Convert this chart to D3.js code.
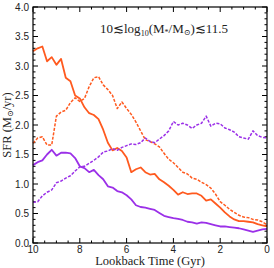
<!DOCTYPE html>
<html>
<head>
    <meta charset="utf-8" />
    <title>SFR history</title>
    <script src="https://cdn.jsdelivr.net/npm/d3@7"></script>
    <style>
        body { margin: 0; background: #fff; }
        .tick-label { font-family: "Liberation Sans", Arial, sans-serif; font-size: 10px; fill: #222; }
        .serif { font-family: "Liberation Serif", "DejaVu Serif", serif; fill: #222; }
    </style>
</head>
<body>
    <svg id="chart" width="274" height="268"></svg>
    <script>
        // lookback time grid (Gyr), 10 -> 0
        var times = d3.range(0, 51).map(function (i) { return +(10 - i * 0.2).toFixed(1); });

        var orangeSolid = [3.25, 3.3, 3.33, 3.08, 3.15, 3.02, 3.12, 2.8, 2.74, 2.5,
            2.45, 2.3, 2.2, 2.17, 2.1, 1.92, 1.7, 1.57, 1.61, 1.56,
            1.45, 1.2, 1.25, 1.28, 1.2, 1.16, 1.17, 1.08, 1.03, 0.97,
            0.9, 0.82, 0.86, 0.83, 0.84, 0.84, 0.8, 0.72, 0.74, 0.67,
            0.6, 0.52, 0.45, 0.4, 0.37, 0.37, 0.36, 0.35, 0.32, 0.3, 0.28];

        var orangeDashed = [1.69, 1.78, 1.8, 1.66, 1.66, 2.15, 2.22, 2.25, 2.38, 2.46,
            2.4, 2.45, 2.65, 2.8, 2.82, 2.68, 2.6, 2.5, 2.28, 2.39,
            2.28, 2.18, 2.05, 1.9, 1.75, 1.72, 1.68, 1.63, 1.52, 1.42,
            1.36, 1.28, 1.2, 1.17, 1.1, 1.08, 1.03, 0.99, 0.93, 0.83,
            0.7, 0.64, 0.57, 0.52, 0.47, 0.44, 0.43, 0.4, 0.39, 0.36, 0.31];

        var purpleSolid = [1.32, 1.37, 1.4, 1.5, 1.58, 1.48, 1.53, 1.53, 1.52, 1.44,
            1.3, 1.27, 1.2, 1.24, 1.15, 1.08, 0.96, 0.94, 0.88, 0.86,
            0.81, 0.74, 0.64, 0.61, 0.6, 0.58, 0.56, 0.51, 0.46, 0.44,
            0.42, 0.41, 0.39, 0.36, 0.35, 0.33, 0.35, 0.34, 0.32, 0.3,
            0.28, 0.28, 0.27, 0.26, 0.25, 0.23, 0.21, 0.19, 0.21, 0.23, 0.24];

        var purpleDashed = [0.69, 0.7, 0.8, 0.86, 0.9, 1.02, 1.05, 1.1, 1.14, 1.22,
            1.29, 1.3, 1.35, 1.4, 1.46, 1.54, 1.56, 1.6, 1.57, 1.62,
            1.65, 1.68, 1.67, 1.7, 1.78, 1.72, 1.7, 1.76, 1.82, 1.9,
            2.06, 2.0, 2.03, 2.0, 1.94, 2.0, 2.03, 2.15, 1.98, 2.03,
            2.02, 1.95, 1.92, 1.88, 1.8, 1.78, 1.76, 1.9, 1.82, 1.79, 1.78];

        var xTicks = [10, 8, 6, 4, 2, 0];
        var yTicks = [0, 0.5, 1, 1.5, 2, 2.5, 3, 3.5, 4];

        var orange = '#ff5a1f', purple = '#9b30e8';

        var svg = d3.select('#chart');
        var pL = 33, pR = 267, pT = 7, pB = 243;

        var x = d3.scaleLinear().domain([10, 0]).range([pL, pR]);
        var y = d3.scaleLinear().domain([0, 4]).range([pB, pT]);

        // ticks on all four sides, pointing inward
        var minorX = d3.range(0, 10.01, 0.5), minorY = d3.range(0, 4.001, 0.1);
        var g = svg.append('g').attr('stroke', '#000').attr('stroke-width', 1);
        minorX.forEach(function (t) {
            var len = (Math.abs(t % 2) < 1e-6) ? 5 : 2.5;
            g.append('line').attr('x1', x(t)).attr('x2', x(t)).attr('y1', pB).attr('y2', pB - len);
            g.append('line').attr('x1', x(t)).attr('x2', x(t)).attr('y1', pT).attr('y2', pT + len);
        });
        minorY.forEach(function (v) {
            var r = Math.round(v * 10);
            var len = (r % 5 === 0) ? 5 : 2.5;
            g.append('line').attr('y1', y(v)).attr('y2', y(v)).attr('x1', pL).attr('x2', pL + len);
            g.append('line').attr('y1', y(v)).attr('y2', y(v)).attr('x1', pR).attr('x2', pR - len);
        });

        svg.selectAll('.xl').data(xTicks).enter().append('text')
            .attr('class', 'tick-label').attr('x', function (d) { return x(d); }).attr('y', 253)
            .attr('text-anchor', 'middle').text(function (d) { return d; });
        svg.selectAll('.yl').data(yTicks).enter().append('text')
            .attr('class', 'tick-label').attr('x', 29).attr('y', function (d) { return y(d) + 3.5; })
            .attr('text-anchor', 'end').text(function (d) { return d.toFixed(1); });

        // curves
        var line = d3.line()
            .x(function (d, i) { return x(times[i]); })
            .y(function (d) { return y(d); });

        var series = [
            { v: orangeSolid, c: orange, dash: null, w: 1.8 },
            { v: orangeDashed, c: orange, dash: '3,1.5', w: 1.5 },
            { v: purpleSolid, c: purple, dash: null, w: 1.8 },
            { v: purpleDashed, c: purple, dash: '3,1.5', w: 1.5 }
        ];
        series.forEach(function (s) {
            svg.append('path').datum(s.v).attr('d', line)
                .attr('fill', 'none').attr('stroke', s.c).attr('stroke-width', s.w)
                .attr('stroke-dasharray', s.dash).attr('stroke-linejoin', 'round');
        });

        svg.append('rect').attr('x', pL).attr('y', pT)
            .attr('width', pR - pL).attr('height', pB - pT)
            .attr('fill', 'none').attr('stroke', '#000').attr('stroke-width', 1.2);

        // axis titles
        svg.append('text').attr('class', 'serif').attr('font-size', 12.5)
            .attr('x', 150).attr('y', 265).attr('text-anchor', 'middle')
            .text('Lookback Time (Gyr)');

        var yl = svg.append('text').attr('class', 'serif').attr('font-size', 12.5)
            .attr('transform', 'translate(11,125) rotate(-90)').attr('text-anchor', 'middle');
        yl.append('tspan').text('SFR (M');
        yl.append('tspan').attr('font-size', 8).attr('dy', 2).text('\u2299');
        yl.append('tspan').attr('dy', -2).text('/yr)');

        // annotation
        var ann = svg.append('text').attr('class', 'serif').attr('font-size', 13)
            .attr('x', 100).attr('y', 33);
        ann.append('tspan').text('10\u2272log');
        ann.append('tspan').attr('font-size', 8).attr('dy', 3).text('10');
        ann.append('tspan').attr('dy', -3).text('(M');
        ann.append('tspan').attr('font-size', 8).attr('dy', 2).text('*');
        ann.append('tspan').attr('dy', -2).text('/M');
        ann.append('tspan').attr('font-size', 8).attr('dy', 2).text('\u2299');
        ann.append('tspan').attr('dy', -2).text(')\u227211.5');
    </script>
</body>
</html>
